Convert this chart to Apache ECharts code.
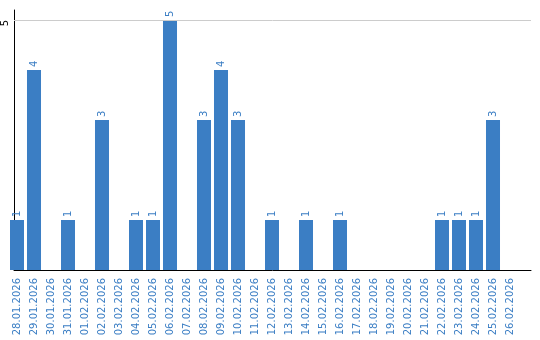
<!DOCTYPE html>
<html><head><meta charset="utf-8">
<script src="https://cdn.jsdelivr.net/npm/echarts@6/dist/echarts.min.js"></script>
<style>html,body{margin:0;padding:0;background:#fff}#c{width:540px;height:340px}</style>
</head><body><div id="c"></div>
<script>
const categories = ["28.01.2026","29.01.2026","30.01.2026","31.01.2026","01.02.2026","02.02.2026","03.02.2026","04.02.2026","05.02.2026","06.02.2026","07.02.2026","08.02.2026","09.02.2026","10.02.2026","11.02.2026","12.02.2026","13.02.2026","14.02.2026","15.02.2026","16.02.2026","17.02.2026","18.02.2026","19.02.2026","20.02.2026","21.02.2026","22.02.2026","23.02.2026","24.02.2026","25.02.2026","26.02.2026"];
const values = [1,4,0,1,0,3,0,1,1,5,0,3,4,3,0,1,0,1,0,1,0,0,0,0,0,1,1,1,3,0];
const yTicks = [5];
const blue = '#3b7ec4';
const font = 'DejaVu Sans';
const chart = echarts.init(document.getElementById('c'), null, {renderer:'canvas'});
chart.setOption({
  animation:false,
  grid:[
    {left:10, top:10, width:521, height:260, containLabel:false},
    {left:8.5, top:10, width:510, height:260, containLabel:false}
  ],
  xAxis:[
    {gridIndex:0, type:'category', data:[''], axisLine:{lineStyle:{color:'#000',width:1}}, axisTick:{show:false}, axisLabel:{show:false}},
    {gridIndex:1, type:'category', data:categories, axisLine:{show:false}, axisTick:{show:false},
     axisLabel:{rotate:90, color:blue, fontFamily:font, fontSize:10, margin:8, interval:0}}
  ],
  yAxis:[
    {gridIndex:0, type:'value', min:0, max:5.2, interval:5,
     axisLine:{show:true, lineStyle:{color:'#000',width:1}}, axisTick:{show:false},
     splitLine:{show:false},
     axisLabel:{customValues:yTicks, rotate:90, color:'#000', fontFamily:font, fontSize:10, margin:4, padding:[0,6,0,0]}},
    {gridIndex:1, type:'value', min:0, max:5.2, show:false, splitLine:{show:false}}
  ],
  series:[
    {type:'line', xAxisIndex:0, yAxisIndex:0, data:[], silent:true,
     markLine:{silent:true, symbol:'none', label:{show:false}, lineStyle:{color:'#cccccc', type:'solid', width:1}, data:yTicks.map(v=>({yAxis:v}))}},
    {type:'bar', xAxisIndex:1, yAxisIndex:1, data:values, barCategoryGap:'17.6%',
     itemStyle:{color:blue},
     label:{show:true, position:'top', rotate:90, align:'left', verticalAlign:'middle', distance:3,
       color:blue, fontFamily:font, fontSize:10,
       formatter:p=>p.value>0?String(p.value):''}}
  ]
});
</script></body></html>
